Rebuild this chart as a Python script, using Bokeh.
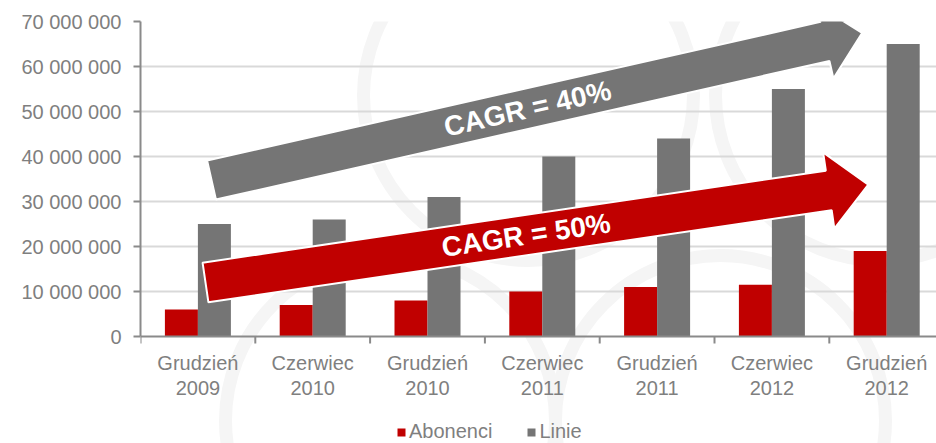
import math
from bokeh.plotting import figure
from bokeh.models import (ColumnDataSource, FixedTicker, Range1d, Legend, LegendItem, Span)
from bokeh.core.properties import value
from bokeh.embed import file_html
from bokeh.resources import INLINE

# ---- data ----
categories = ["Grudzień\n2009", "Czerwiec\n2010", "Grudzień\n2010", "Czerwiec\n2011",
              "Grudzień\n2011", "Czerwiec\n2012", "Grudzień\n2012"]
abonenci = [6_000_000, 7_000_000, 8_000_000, 10_000_000, 11_000_000, 11_500_000, 19_000_000]
linie = [25_000_000, 26_000_000, 31_000_000, 40_000_000, 44_000_000, 55_000_000, 65_000_000]
y_ticks = [0, 10_000_000, 20_000_000, 30_000_000, 40_000_000, 50_000_000, 60_000_000, 70_000_000]
cagr_labels = ["CAGR = 40%", "CAGR = 50%"]

RED = "#C00000"
GRAY = "#757575"
TXT = "#7f7f7f"
AXC = "#8a8a8a"
FONT = "Liberation Sans"

W, H = 936, 443
LEFT, TOP = 140, 21
plot_h = 315               # pixels from 0 to 70M
CW = 114.8                 # px per category
y_max = 70_000_000
PPY = plot_h / y_max
x_end = (W - LEFT) / CW
y_start = -(H - TOP - plot_h) / PPY   # frame extends to bottom to host labels & legend

p = figure(width=W, height=H, output_backend="svg", toolbar_location=None,
           x_range=Range1d(0, x_end), y_range=Range1d(y_start, y_max),
           x_axis_location=None,
           min_border_left=LEFT, min_border_top=TOP, min_border_bottom=0,
           min_border_right=0)
p.outline_line_color = None
p.background_fill_color = "white"
p.border_fill_color = "white"

PX0, PY0 = LEFT, TOP + plot_h
def to_data(px, py):
    return (px - PX0) / CW, (PY0 - py) / PPY

# watermark rings
ring_centers = [(528, 95), (880, 95), (390, 420), (720, 420)]
rx, ry = zip(*[to_data(*c) for c in ring_centers])
p.scatter(x=list(rx), y=list(ry), marker="circle", size=330, fill_color=None,
          line_color="#f5f5f5", line_width=13, level="underlay")

# bars
bw = 33 / CW
idx = list(range(len(categories)))
src = ColumnDataSource(dict(
    xr=[i + 0.5 - bw / 2 for i in idx], xg=[i + 0.5 + bw / 2 for i in idx],
    xc=[i + 0.5 for i in idx], lab=categories, zero=[0] * len(idx),
    ab=abonenci, li=linie))
r_ab = p.vbar(x="xr", width=bw, top="ab", source=src, fill_color=RED, line_color=None)
r_li = p.vbar(x="xg", width=bw, top="li", source=src, fill_color=GRAY, line_color=None)

# category axis: baseline, boundary ticks, labels
p.add_layout(Span(location=0, dimension="width", line_color=AXC, line_width=2))
bounds = list(range(len(categories) + 1))
p.segment(x0=bounds, y0=[0] * len(bounds), x1=bounds, y1=[-7 / PPY] * len(bounds),
          line_color=AXC, line_width=2)
p.text(x="xc", y="zero", text="lab", source=src, y_offset=15, text_align="center",
       text_baseline="top", text_line_height=1.15, text_color=TXT,
       text_font=value(FONT), text_font_size="20px")

# arrows (drawn in pixel space, converted to data)
def arrow(tail, ang_deg, length, hw, head_hw, head_len):
    a = math.radians(ang_deg)
    ux, uy = math.cos(a), -math.sin(a)
    nx, ny = -uy, ux
    tx, ty = tail
    bx, by = tx + length * ux, ty + length * uy
    pts = [
        (tx - hw * nx, ty - hw * ny),
        (bx - hw * nx, by - hw * ny),
        (bx - head_hw * nx, by - head_hw * ny),
        (bx + head_len * ux, by + head_len * uy),
        (bx + head_hw * nx, by + head_hw * ny),
        (bx + hw * nx, by + hw * ny),
        (tx + hw * nx, ty + hw * ny),
    ]
    xs, ys = zip(*[to_data(*q) for q in pts])
    cx, cy = to_data(tx + 324 * ux, ty + 324 * uy)
    return list(xs), list(ys), cx, cy, a

arrows = [((211, 179.5), 12.73, 629, 20, 38, 38, GRAY),
          ((205, 282), 8.4, 630, 20, 38.5, 40, RED)]
for (tail, ang, L, hw, hhw, hl, col), lab in zip(arrows, cagr_labels):
    xs, ys, cx, cy, a = arrow(tail, ang, L, hw, hhw, hl)
    p.patch(xs, ys, fill_color=col, line_color="white", line_width=2)
    p.text(x=[cx], y=[cy], text=[lab], angle=a, text_align="center",
           text_baseline="middle", text_color="white",
           text_font=value(FONT), text_font_style="bold", text_font_size="28px")

# y axis
p.yaxis.ticker = FixedTicker(ticks=y_ticks)
p.yaxis.bounds = (0, y_max)
p.yaxis.major_label_overrides = {t: f"{t:,}".replace(",", " ") for t in y_ticks}
p.yaxis.axis_line_color = AXC
p.yaxis.axis_line_width = 2
p.yaxis.major_tick_line_color = AXC
p.yaxis.major_tick_line_width = 2
p.yaxis.major_tick_in = 0
p.yaxis.major_tick_out = 7
p.yaxis.minor_tick_line_color = None
p.yaxis.major_label_standoff = 12
p.yaxis.major_label_text_color = TXT
p.yaxis.major_label_text_font = FONT
p.yaxis.major_label_text_font_size = "20px"

p.ygrid.ticker = FixedTicker(ticks=y_ticks[1:])
p.ygrid.grid_line_color = "#d9d9d9"
p.ygrid.grid_line_width = 2
p.xgrid.grid_line_color = None

legend = Legend(items=[LegendItem(label="Abonenci", renderers=[r_ab]),
                       LegendItem(label="Linie", renderers=[r_li])],
                location=(256, 0), orientation="horizontal",
                glyph_width=10, glyph_height=10, label_standoff=3, spacing=34,
                padding=0, margin=0, background_fill_alpha=0, border_line_color=None,
                label_text_font=FONT, label_text_font_size="20px", label_text_color=TXT)
p.add_layout(legend, "center")

open("out.html", "w").write(file_html(p, INLINE))
